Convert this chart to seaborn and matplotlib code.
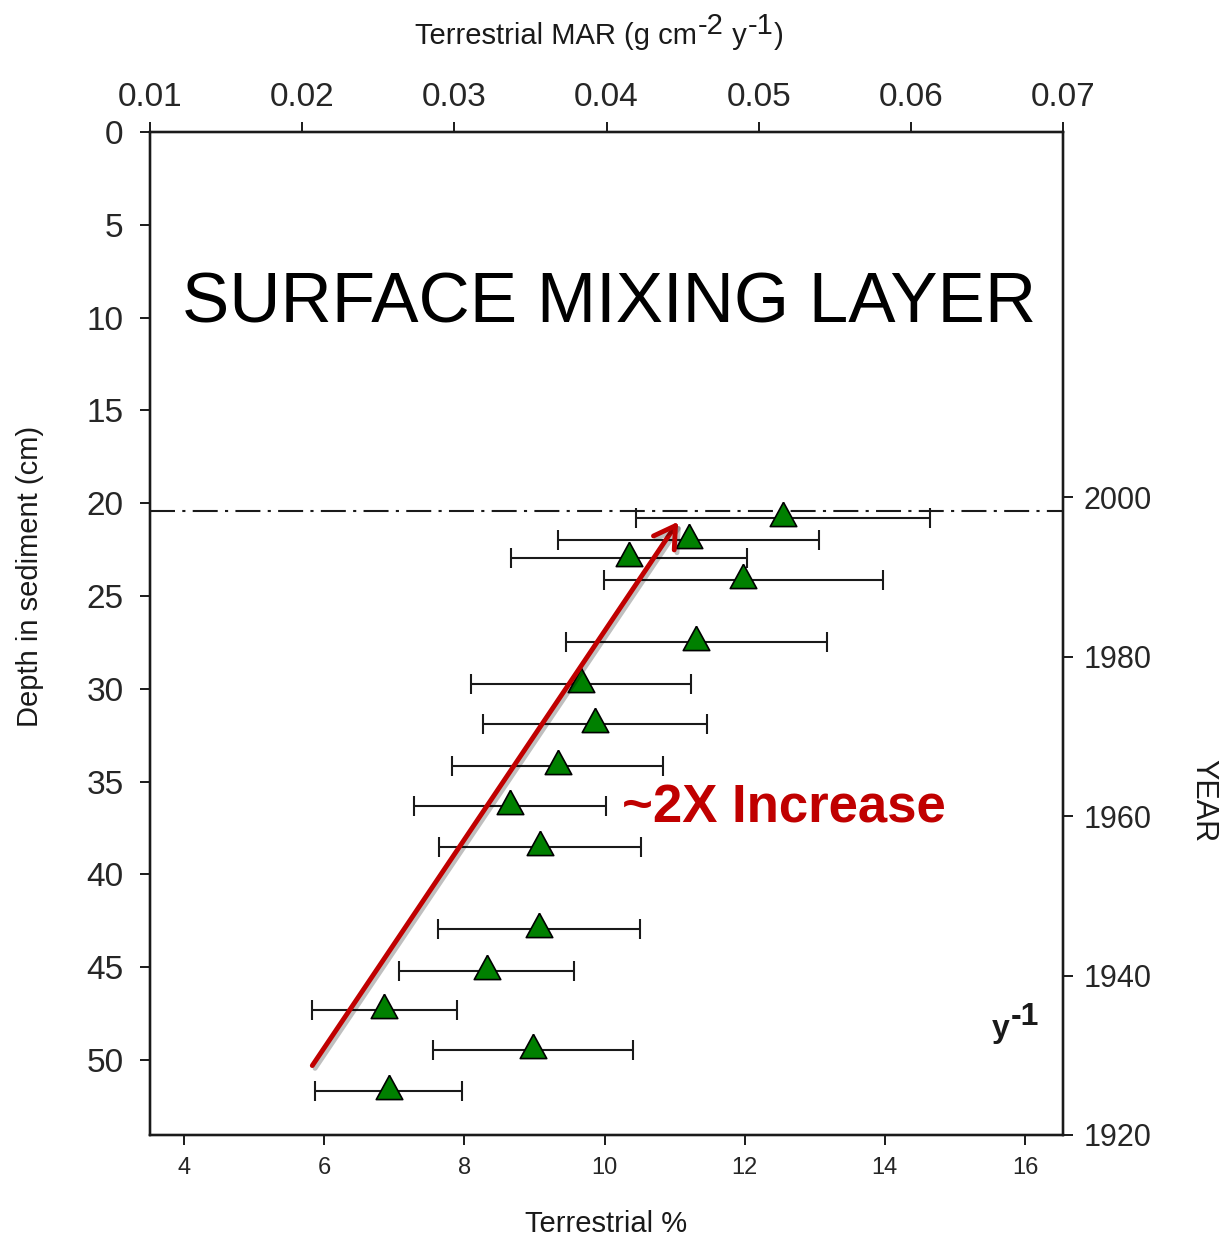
import numpy as np
import pandas as pd
import matplotlib
matplotlib.use("Agg")
import matplotlib.pyplot as plt
import matplotlib.patheffects as pe
from matplotlib import font_manager
from matplotlib.markers import MarkerStyle
import seaborn as sns

# values
terrestrial = [12.55, 11.20, 10.35, 11.98, 11.31, 9.66, 9.86, 9.33, 8.65, 9.08, 9.07, 8.32, 6.86, 8.98, 6.92]
depth = [20.80, 21.98, 22.95, 24.14, 27.48, 29.74, 31.90, 34.16, 36.31, 38.52, 42.94, 45.20, 47.31, 49.46, 51.67]
terr_err = [2.10, 1.86, 1.69, 1.99, 1.86, 1.57, 1.60, 1.51, 1.37, 1.44, 1.44, 1.25, 1.04, 1.43, 1.05]

mixing_depth = 20.42
arrow_tail = (5.83, 50.3)
arrow_head = (11.05, 21.0)

pct_ticks = [4, 6, 8, 10, 12, 14, 16]
depth_ticks = [0, 5, 10, 15, 20, 25, 30, 35, 40, 45, 50]
mar_ticks = [0.01, 0.02, 0.03, 0.04, 0.05, 0.06, 0.07]
mar_labels = ["0.01", "0.02", "0.03", "0.04", "0.05", "0.06", "0.07"]
year_ticks = [1920, 1940, 1960, 1980, 2000]

df = pd.DataFrame({"terrestrial": terrestrial, "depth": depth, "err": terr_err})

sns.set_style("white")
plt.rcParams["font.family"] = ["Liberation Sans", "DejaVu Sans"]

installed = {f.name for f in font_manager.fontManager.ttflist}
narrow = "Liberation Sans Narrow" if "Liberation Sans Narrow" in installed else "Liberation Sans"

ink = "#1a1a1a"
red = "#C00000"

fig = plt.figure(figsize=(12.21, 12.38), dpi=100)
ax = fig.add_axes([0.1229, 0.0832, 0.7477, 0.8102])

# error bars first, then the triangles on top
ax.errorbar(df["terrestrial"], df["depth"], xerr=df["err"], fmt="none",
            ecolor=ink, elinewidth=1.5, capsize=7, capthick=1.5, zorder=2)

# triangle with its centroid on the point, like the original
tri = MarkerStyle([(0, 1), (-0.82, -0.5), (0.82, -0.5), (0, 1)])
sns.scatterplot(data=df, x="terrestrial", y="depth", marker=tri, s=540,
                color="#008000", edgecolor="black", linewidth=1.2, zorder=3, ax=ax)

ax.axhline(mixing_depth, color=ink, lw=1.5, ls=(0, (12, 3.5, 1.5, 3.5)), zorder=1)

ax.set_xlim(3.515, 16.542)
ax.set_ylim(54.04, 0)
ax.set_xticks(pct_ticks)
ax.set_yticks(depth_ticks)
ax.set_xlabel("")
ax.set_ylabel("")
ax.tick_params(axis="x", direction="out", length=7, width=1.4, color=ink,
               labelsize=17, pad=9, bottom=True, top=False)
ax.tick_params(axis="y", direction="out", length=7, width=1.4, color=ink,
               labelsize=24, pad=12, left=True, right=False)
for lab in ax.get_yticklabels():
    lab.set_fontfamily(narrow)

# top axis: MAR
axt = ax.twiny()
axt.set_xlim(0.01, 0.07)
axt.set_xticks(mar_ticks)
axt.set_xticklabels(mar_labels, fontfamily=narrow)
axt.tick_params(axis="x", direction="out", length=7, width=1.4, color=ink,
                labelsize=24, pad=7)

# right axis: year
axr = ax.twinx()
axr.set_ylim(1920, 2045.8)
axr.set_yticks(year_ticks)
axr.tick_params(axis="y", direction="out", length=7, width=1.4, color=ink,
                labelsize=22, pad=8)

for a in (ax, axt, axr):
    for sp in a.spines.values():
        sp.set_linewidth(1.6)
        sp.set_color(ink)

# annotations
ax.text(3.97, 10.24, "SURFACE MIXING LAYER", fontsize=51, color="black",
        ha="left", va="baseline", zorder=4)
ax.text(10.25, 37.23, "~2X Increase", fontsize=38, fontweight="bold", color=red,
        ha="left", va="baseline", zorder=4)
ax.text(15.53, 48.76, "y", fontsize=23, fontweight="bold", color=ink,
        ha="left", va="baseline")
ax.text(15.80, 48.11, "-1", fontsize=23, fontweight="bold", color=ink,
        ha="left", va="baseline")

ann = ax.annotate("", xy=arrow_head, xytext=arrow_tail,
                  arrowprops=dict(arrowstyle="->, head_length=0.5, head_width=0.3",
                                  color=red, lw=3.5, mutation_scale=30,
                                  shrinkA=0, shrinkB=0),
                  zorder=5)
ann.arrow_patch.set_path_effects([pe.SimpleLineShadow(offset=(2, -2), alpha=0.25), pe.Normal()])

# top title, superscripts kept at full size as in the original
pieces = [("-2", 7.5), (" y", 0), ("-1", 7.5), (")", 0)]
prev = fig.text(415 / 1221, 1 - 50 / 1238, "Terrestrial MAR (g cm", fontsize=21,
                color=ink, ha="left", va="bottom")
level = 0
for txt, rise in pieces:
    prev = ax.annotate(txt, xy=(1, 0), xycoords=prev, xytext=(0.5, rise - level),
                       textcoords="offset points", fontsize=21, color=ink,
                       ha="left", va="bottom", annotation_clip=False)
    level = rise

fig.text(606 / 1221, 1 - 1232 / 1238, "Terrestrial %", fontsize=21, color=ink,
         ha="center", va="baseline")
fig.text(30 / 1221, 1 - 576 / 1238, "Depth in sediment (cm)", fontsize=21, color=ink,
         rotation=90, ha="center", va="center")
fig.text(1203 / 1221, 1 - 801 / 1238, "YEAR", fontsize=22, color=ink,
         rotation=270, ha="center", va="center")

fig.savefig("out.png", dpi=100, facecolor="white")
